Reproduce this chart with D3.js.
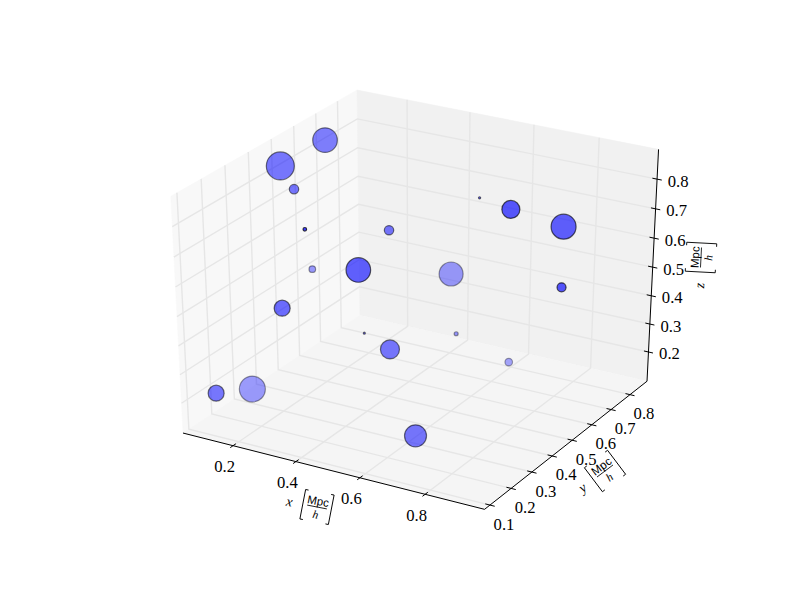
<!DOCTYPE html>
<html><head><meta charset="utf-8">
<script src="https://cdn.jsdelivr.net/npm/d3@7"></script>
<style>html,body{margin:0;padding:0;background:#fff}svg{display:block}
text{font-family:"Liberation Serif",serif;fill:#000}</style></head>
<body><svg id="c" width="800" height="600"></svg>
<script>
const xValues=[.126,.075,.127,.429,.096,.385,.613,.770,.874,.441,.428,.962,.417,.502,.491,.609,.251,.122,.050,.626];
const yValues=[.616,.486,.472,.098,.588,.530,.609,.510,.599,.308,.762,.450,.366,.675,.375,.774,.237,.114,.365,.292];
const zValues=[.864,.823,.763,.872,.426,.657,.782,.825,.751,.642,.405,.642,.392,.254,.350,.128,.501,.237,.098,.127];
const radii=[12.3,14,4.7,1.8,3.3,4.7,1.1,9,12.5,12.3,12,4.5,1,2,9.5,3.8,8,8,13,11];
const xTicks=[.2,.4,.6,.8];
const yTicks=[.1,.2,.3,.4,.5,.6,.7,.8];
const zTicks=[.2,.3,.4,.5,.6,.7,.8];
const xLim=[.038,.979], yLim=[.0747,.8915], zLim=[.0941,.899];

const sx=d3.scaleLinear().domain(xLim).range([-.5,.5]);
const sy=d3.scaleLinear().domain(yLim).range([-.5,.5]);
const sz=d3.scaleLinear().domain(zLim).range([-.5,.5]);
const rS=d3.scaleSqrt().domain([0,14*14]).range([0,14]);
const alphaS=d3.scaleLinear().domain([-.35,.33]).range([.38,.66]);
const px=d3.scaleLinear().domain([0,1]).range([418.6,418.6+3481]);
const py=d3.scaleLinear().domain([0,1]).range([292.5,292.5-2704]);
const U=[.8660254,.5,0],V=[-.25,.4330127,.8660254],N=[.4330127,-.75,.5];
const dot=(a,b)=>a[0]*b[0]+a[1]*b[1]+a[2]*b[2];
// unit-cube coordinates to screen (elev 30, azim -60, dist 10)
function projQ(q){const d=dot(N,q),w=10-d;return [px(dot(U,q)/w),py(dot(V,q)/w),d];}
const proj=(x,y,z)=>projQ([sx(x),sy(y),sz(z)]);
const [x0,x1]=xLim,[y0,y1]=yLim,[z0,z1]=zLim;
const svg=d3.select("#c");
const line=d3.line().x(d=>d[0]).y(d=>d[1]);

const panes=[
 {c:"#f8f8f8",p:[[x0,y0,z0],[x0,y1,z0],[x0,y1,z1],[x0,y0,z1]]},
 {c:"#f1f1f1",p:[[x0,y1,z0],[x1,y1,z0],[x1,y1,z1],[x0,y1,z1]]},
 {c:"#f5f5f5",p:[[x0,y0,z0],[x1,y0,z0],[x1,y1,z0],[x0,y1,z0]]}];
svg.append("g").selectAll("path").data(panes).join("path")
 .attr("d",d=>line(d.p.map(a=>proj(...a)))+"Z").attr("fill",d=>d.c).attr("stroke",d=>d.c).attr("stroke-width",.5);

const grid=[];
xTicks.forEach(t=>grid.push([[t,y0,z0],[t,y1,z0],[t,y1,z1]]));
yTicks.forEach(t=>grid.push([[x1,t,z0],[x0,t,z0],[x0,t,z1]]));
zTicks.forEach(t=>grid.push([[x0,y0,t],[x0,y1,t],[x1,y1,t]]));
svg.append("g").selectAll("path").data(grid).join("path")
 .attr("d",d=>line(d.map(a=>proj(...a)))).attr("fill","none").attr("stroke","#e6e6e6").attr("stroke-width",1.4);

const axes=[[[x0,y0,z0],[x1,y0,z0]],[[x1,y0,z0],[x1,y1,z0]],[[x1,y1,z0],[x1,y1,z1]]];
svg.append("g").selectAll("path").data(axes).join("path")
 .attr("d",d=>line(d.map(a=>proj(...a)))).attr("fill","none").attr("stroke","#000").attr("stroke-width",1);

const dx=.015*(x1-x0),dy=.015*(y1-y0);
const tickData=[
 ...xTicks.map(t=>({t,a:[t,y0-dy,z0],b:[t,y0+dy,z0],o:[t,y0,z0],ox:-8.5,oy:21})),
 ...yTicks.map(t=>({t,a:[x1-dx,t,z0],b:[x1+dx,t,z0],o:[x1,t,z0],ox:14,oy:19})),
 ...zTicks.map(t=>({t,a:[x1-dx,y1,t],b:[x1+dx,y1,t],o:[x1,y1,t],ox:21,oy:2}))];
const tg=svg.append("g");
tg.selectAll("path").data(tickData).join("path")
 .attr("d",d=>line([proj(...d.a),proj(...d.b)])).attr("stroke","#000").attr("stroke-width",1).attr("fill","none");
tg.selectAll("text").data(tickData).join("text")
 .attr("x",d=>proj(...d.o)[0]+d.ox).attr("y",d=>proj(...d.o)[1]+d.oy)
 .attr("text-anchor","middle").attr("dominant-baseline","central").attr("font-size",16.67)
 .text(d=>d.t.toFixed(1));

const pts=xValues.map((x,i)=>{const p=proj(x,yValues[i],zValues[i]);return {p,r:radii[i]};}).sort((a,b)=>a.p[2]-b.p[2]);
svg.append("g").selectAll("circle").data(pts).join("circle")
 .attr("cx",d=>d.p[0]).attr("cy",d=>d.p[1]).attr("r",d=>rS(d.r*d.r))
 .attr("fill","#0000ff").attr("fill-opacity",d=>alphaS(d.p[2]))
 .attr("stroke","#000").attr("stroke-opacity",d=>alphaS(d.p[2])).attr("stroke-width",1.2);

function axisLabel(cx,cy,rot,sym){
 const g=svg.append("g").attr("transform",`translate(${cx},${cy}) rotate(${rot})`);
 g.append("text").attr("x",-28).attr("y",0).attr("dominant-baseline","central").attr("text-anchor","middle")
  .attr("font-style","italic").attr("font-size",14).text(sym);
 g.append("path").attr("d","M-11.5,-15H-14.5V15H-11.5M11.5,-15H14.5V15H11.5").attr("fill","none").attr("stroke","#000").attr("stroke-width",.9);
 g.append("text").attr("x",0).attr("y",-6).attr("text-anchor","middle").attr("dominant-baseline","central")
  .style("font-family","Liberation Sans").attr("font-size",11.5).text("Mpc");
 g.append("path").attr("d","M-10,0H10").attr("stroke","#000").attr("stroke-width",.8);
 g.append("text").attr("x",0).attr("y",7.5).attr("text-anchor","middle").attr("dominant-baseline","central")
  .attr("font-style","italic").attr("font-size",11.5).text("h");
}
axisLabel(317,507,11,"x");
axisLabel(605,471,-37,"y");
axisLabel(701,257.5,-87,"z");
</script></body></html>
